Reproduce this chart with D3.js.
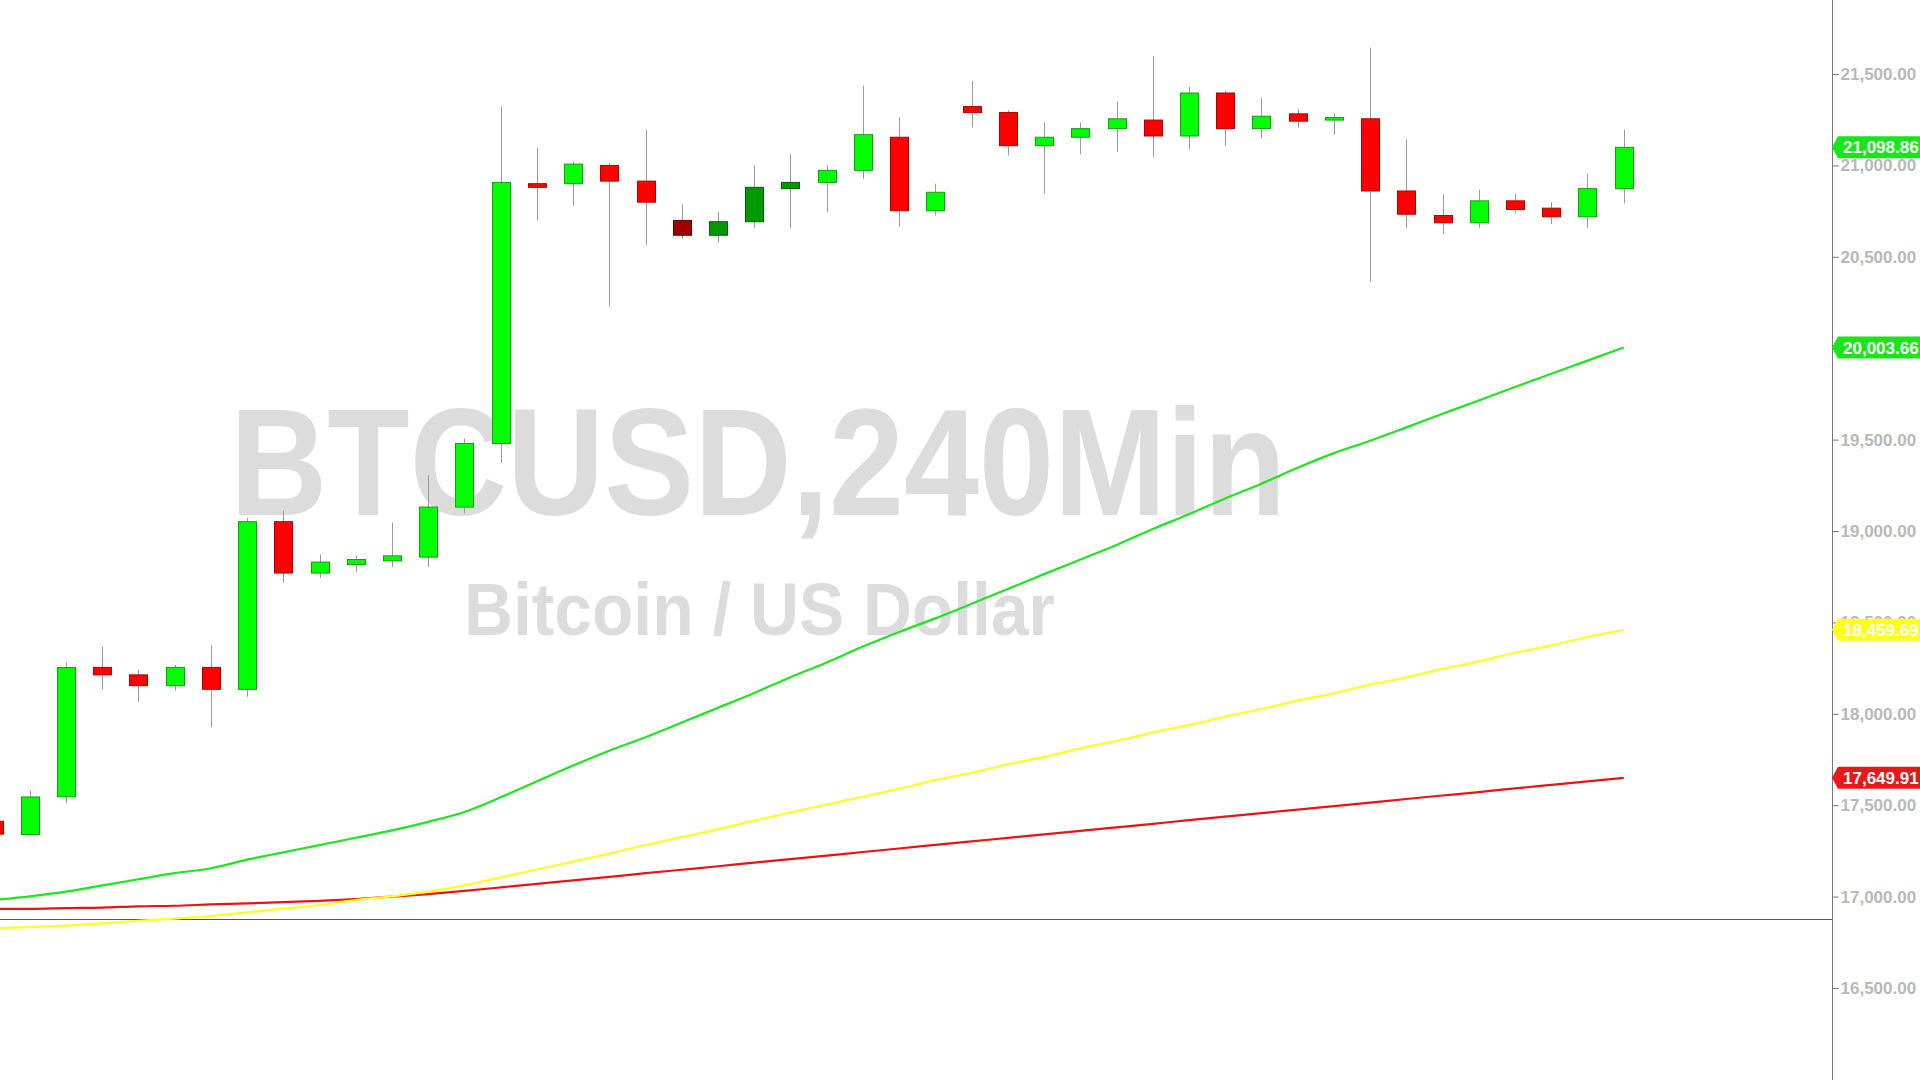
<!DOCTYPE html>
<html><head><meta charset="utf-8">
<script src="https://cdn.jsdelivr.net/npm/d3@7"></script>
<style>html,body{margin:0;padding:0;background:#fff;overflow:hidden}</style>
</head><body>
<svg id="c" width="1920" height="1080"></svg>
<script>
// ---- DATA (BTCUSD, 240 min candles) ----
const open  = [17412,17340,17546,18254,18213,18154,18254,18134,19051,18770,18817,18837,18857,19131,19479,20900,20900,21000,20914,20699,20618,20692,20873,20907,20973,21154,20752,21322,21289,21108,21154,21201,21248,21161,21396,21201,21282,21248,21255,20860,20726,20686,20806,20766,20719,20873];
const high  = [17437,17578,18280,18367,18240,18267,18374,19072,19111,18871,18864,19045,19305,19506,21322,21095,21021,21014,21195,20786,20745,21000,21061,21000,21436,21262,20900,21463,21302,21235,21235,21348,21597,21429,21409,21369,21309,21282,21644,21142,20840,20867,20846,20799,20954,21195];
const low   = [17317,17335,17510,18134,18066,18127,17926,18093,18716,18743,18776,18803,18803,19098,19373,20699,20780,20230,20565,20598,20578,20659,20659,20745,20927,20666,20726,21208,21054,20846,21061,21074,21047,21088,21108,21148,21208,21168,20364,20659,20625,20659,20739,20679,20659,20793];
const close = [17342,17545,18253,18213,18154,18254,18134,19051,18770,18830,18844,18864,19131,19479,20907,20880,21007,20914,20799,20618,20692,20880,20907,20973,21168,20752,20853,21289,21108,21154,21201,21255,21161,21396,21201,21269,21242,21262,20860,20733,20686,20806,20759,20719,20873,21098.86];
// candles drawn in the darker shade
const darkBars = [19,20,21,22];
// moving averages
const maFast = [16981,17001,17027,17061,17095,17128,17155,17202,17242,17282,17322,17362,17409,17463,17543,17631,17717,17798,17872,17952,18033,18114,18200,18281,18368,18448,18522,18602,18683,18764,18844,18924,19011,19092,19178,19259,19346,19426,19494,19567,19641,19714,19788,19860,19932,20003.66];
const maMid  = [16827,16834,16841,16854,16868,16880,16894,16914,16934,16954,16981,17001,17027,17061,17105,17148,17191,17235,17282,17325,17369,17416,17460,17504,17546,17590,17637,17677,17724,17764,17811,17851,17898,17938,17985,18026,18072,18112,18160,18200,18246,18287,18334,18374,18420,18459.69];
const maSlow = [16933,16933,16937,16940,16947,16950,16957,16963,16970,16977,16987,17000,17014,17031,17050,17070,17089,17108,17128,17147,17166,17186,17205,17224,17244,17263,17283,17302,17321,17340,17360,17379,17398,17418,17437,17457,17476,17495,17514,17534,17553,17572,17592,17611,17630,17649.91];
// axis tick values
const tickValues = [16500,17000,17500,18000,18500,19000,19500,20000,20500,21000,21500];
// last-value labels
const lastLabels = [21098.86, 20003.66, 18459.69, 17649.91];
const titleText = "BTCUSD,240Min";
const subtitleText = "Bitcoin / US Dollar";

// ---- DRAW ----
const W = 1920, H = 1080, axisX = 1832;
const svg = d3.select("#c");
const bars = open.map((_, i) => i);
const x = d3.scaleLinear().domain([0, 45]).range([-6.5, 1623.7]);
const y = d3.scaleLinear().domain([16500, 21500]).range([988, 74]);
const fmt = d3.format(",.2f");
const FONT = "'Liberation Sans', Arial, Helvetica, sans-serif";

// watermark
svg.append("text").text(titleText)
  .attr("x", 230).attr("y", 515)
  .attr("textLength", 1056).attr("lengthAdjust", "spacingAndGlyphs")
  .style("font-family", FONT).style("font-weight", "bold").style("font-size", "153px")
  .style("fill", "#dcdcdc");
svg.append("text").text(subtitleText)
  .attr("x", 464).attr("y", 635)
  .attr("textLength", 591).attr("lengthAdjust", "spacingAndGlyphs")
  .style("font-family", FONT).style("font-weight", "bold").style("font-size", "75px")
  .style("fill", "#dcdcdc");

// horizontal reference line
svg.append("line").attr("x1", 0).attr("x2", axisX).attr("y1", 919.5).attr("y2", 919.5)
  .attr("stroke", "#555").attr("stroke-width", 1);

// moving averages
const line = d3.line().curve(d3.curveMonotoneX).x((d, i) => x(i)).y(d => y(d));
[[maSlow, "#e61414"], [maMid, "#ffff26"], [maFast, "#1ee61e"]].forEach(([data, col]) => {
  svg.append("path").datum(data).attr("d", line)
    .attr("fill", "none").attr("stroke", col).attr("stroke-width", 2.2)
    .attr("stroke-linejoin", "round");
});

// candles
const cg = svg.append("g");
cg.selectAll("line.wick").data(bars).join("line").attr("class", "wick")
  .attr("x1", i => Math.round(x(i)) + 0.5).attr("x2", i => Math.round(x(i)) + 0.5)
  .attr("y1", i => y(high[i])).attr("y2", i => y(low[i]))
  .attr("stroke", "#9a9a9a").attr("stroke-width", 1);
function fillOf(i) {
  const up = close[i] >= open[i], dark = darkBars.includes(i);
  if (up) return dark ? "#009a00" : "#00ff00";
  return dark ? "#a00000" : "#ff0000";
}
function strokeOf(i) {
  const up = close[i] >= open[i], dark = darkBars.includes(i);
  if (up) return dark ? "#006000" : "#10a010";
  return dark ? "#600000" : "#b00000";
}
cg.selectAll("rect.body").data(bars).join("rect").attr("class", "body")
  .attr("x", i => Math.round(x(i)) - 8.5)
  .attr("width", 18)
  .attr("y", i => y(Math.max(open[i], close[i])))
  .attr("height", i => Math.max(2, Math.abs(y(open[i]) - y(close[i]))))
  .attr("fill", fillOf).attr("stroke", strokeOf).attr("stroke-width", 1);

// right axis
svg.append("line").attr("x1", axisX + 0.5).attr("x2", axisX + 0.5).attr("y1", 0).attr("y2", H)
  .attr("stroke", "#777").attr("stroke-width", 1);
const ax = svg.append("g").attr("transform", `translate(${axisX + 0.5},0)`)
  .call(d3.axisRight(y).tickValues(tickValues).tickSize(6).tickPadding(2).tickFormat(fmt));
ax.select(".domain").remove();
ax.selectAll(".tick line").attr("stroke", "#777");
ax.selectAll(".tick text").style("font-family", FONT).style("font-size", "17px")
  .style("font-weight", "bold").style("fill", "#b8b8b8");

// last value labels
const labelColors = ["#19e619", "#19e619", "#ffff1e", "#e81818"];
lastLabels.forEach((v, k) => {
  const yy = y(v), h = 11;
  const g = svg.append("g");
  g.append("path")
    .attr("d", `M${axisX},${yy} L${axisX + 6},${yy - h} L${W},${yy - h} L${W},${yy + h} L${axisX + 6},${yy + h} Z`)
    .attr("fill", labelColors[k]);
  g.append("text").text(fmt(v)).attr("x", 1843).attr("y", yy).attr("dy", "0.36em")
    .style("font-family", FONT).style("font-weight", "bold").style("font-size", "17px")
    .style("fill", "#ffffff");
});
</script>
</body></html>
